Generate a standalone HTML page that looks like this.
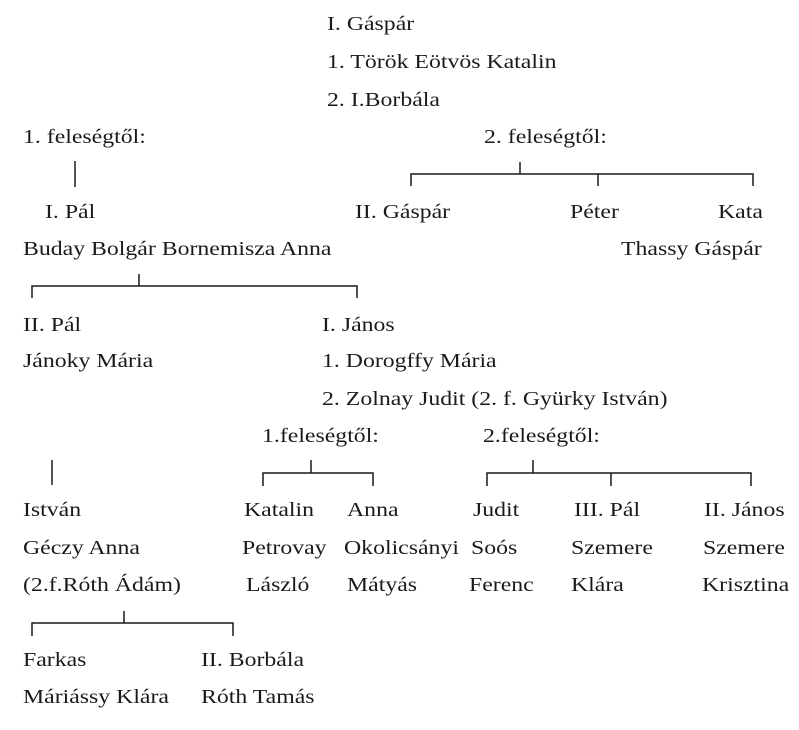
<!DOCTYPE html>
<html><head><meta charset="utf-8"><style>
html,body{margin:0;padding:0;background:#fff;}
svg{display:block}
text{font-family:"Liberation Serif",serif;font-size:20px;fill:#1a1a1a}
</style></head><body>
<svg width="799" height="730" xmlns="http://www.w3.org/2000/svg">
<g stroke="#1a1a1a" stroke-width="1.5" fill="none">
<path d="M75 161V187"/>
<path d="M411 186V174H753V186M520 162V174M598 174V186"/>
<path d="M32 298V286H357V298M139 274V286"/>
<path d="M52 460V485"/>
<path d="M263 486V473H373V486M311 460V473"/>
<path d="M487 486V473H751V486M533 460V473M611 473V486"/>
<path d="M32 636V623H233V636M124 611V623"/>
</g>
<text transform="translate(327,30) scale(1.19,1)">I. Gáspár</text>
<text transform="translate(327,68) scale(1.19,1)">1. Török Eötvös Katalin</text>
<text transform="translate(327,106) scale(1.19,1)">2. I.Borbála</text>
<text transform="translate(23,143) scale(1.19,1)">1. feleségtől:</text>
<text transform="translate(484,143) scale(1.19,1)">2. feleségtől:</text>
<text transform="translate(45,218) scale(1.19,1)">I. Pál</text>
<text transform="translate(355,218) scale(1.19,1)">II. Gáspár</text>
<text transform="translate(570,218) scale(1.19,1)">Péter</text>
<text transform="translate(718,218) scale(1.19,1)">Kata</text>
<text transform="translate(23,255) scale(1.19,1)">Buday Bolgár Bornemisza Anna</text>
<text transform="translate(621,255) scale(1.19,1)">Thassy Gáspár</text>
<text transform="translate(23,331) scale(1.19,1)">II. Pál</text>
<text transform="translate(322,331) scale(1.19,1)">I. János</text>
<text transform="translate(23,367) scale(1.19,1)">Jánoky Mária</text>
<text transform="translate(322,367) scale(1.19,1)">1. Dorogffy Mária</text>
<text transform="translate(322,405) scale(1.19,1)">2. Zolnay Judit (2. f. Gyürky István)</text>
<text transform="translate(262,442) scale(1.19,1)">1.feleségtől:</text>
<text transform="translate(483,442) scale(1.19,1)">2.feleségtől:</text>
<text transform="translate(23,516) scale(1.19,1)">István</text>
<text transform="translate(244,516) scale(1.19,1)">Katalin</text>
<text transform="translate(347,516) scale(1.19,1)">Anna</text>
<text transform="translate(473,516) scale(1.19,1)">Judit</text>
<text transform="translate(574,516) scale(1.19,1)">III. Pál</text>
<text transform="translate(704,516) scale(1.19,1)">II. János</text>
<text transform="translate(23,554) scale(1.19,1)">Géczy Anna</text>
<text transform="translate(242,554) scale(1.19,1)">Petrovay</text>
<text transform="translate(344,554) scale(1.19,1)">Okolicsányi</text>
<text transform="translate(471,554) scale(1.19,1)">Soós</text>
<text transform="translate(571,554) scale(1.19,1)">Szemere</text>
<text transform="translate(703,554) scale(1.19,1)">Szemere</text>
<text transform="translate(23,591) scale(1.19,1)">(2.f.Róth Ádám)</text>
<text transform="translate(246,591) scale(1.19,1)">László</text>
<text transform="translate(347,591) scale(1.19,1)">Mátyás</text>
<text transform="translate(469,591) scale(1.19,1)">Ferenc</text>
<text transform="translate(571,591) scale(1.19,1)">Klára</text>
<text transform="translate(702,591) scale(1.19,1)">Krisztina</text>
<text transform="translate(23,666) scale(1.19,1)">Farkas</text>
<text transform="translate(201,666) scale(1.19,1)">II. Borbála</text>
<text transform="translate(23,703) scale(1.19,1)">Máriássy Klára</text>
<text transform="translate(201,703) scale(1.19,1)">Róth Tamás</text>
</svg>
</body></html>
